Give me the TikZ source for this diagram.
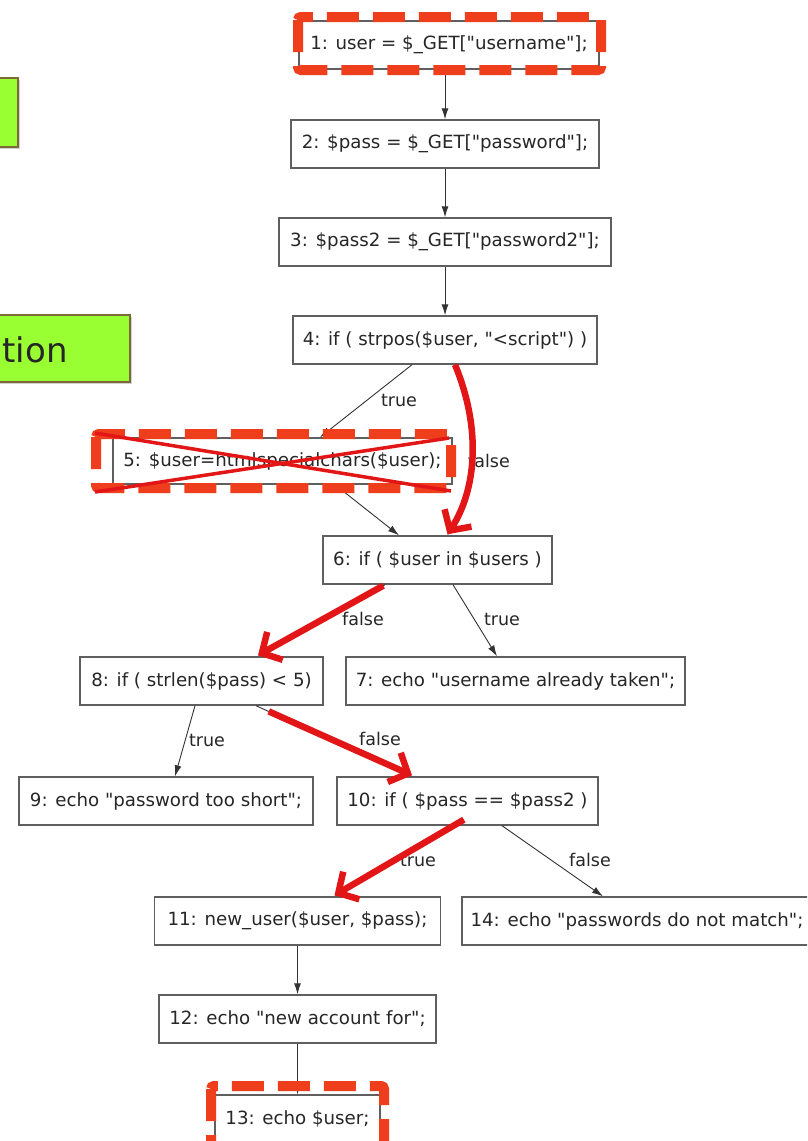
\documentclass[tikz,border=0pt]{standalone}
\usepackage{fontspec}
\setmainfont{DejaVu Sans}[Ligatures=TeXOff]
\usetikzlibrary{arrows.meta,shadows}
\definecolor{hotred}{RGB}{226,22,22}
\definecolor{dashred}{RGB}{238,62,28}
\definecolor{lime}{RGB}{153,255,51}
\definecolor{olivebrd}{RGB}{125,105,55}
\definecolor{boxgray}{RGB}{95,95,95}
\tikzset{
  stmt/.style={draw=boxgray, line width=1.4pt, fill=white, minimum height=48pt,
    inner sep=0pt, font=\fontsize{18.2}{20}\selectfont, text=black!85},
  flow/.style={draw=black!80, line width=0.9pt, -{Latex[length=11pt,width=7pt]}},
  lbl/.style={font=\fontsize{17.5}{20}\selectfont, text=black!85, inner sep=0pt},
  hot/.style={draw=hotred, line width=6.5pt, -{Straight Barb[length=15pt,width=32pt]}},
  redframe/.style={draw=dashred, line width=10pt, dash pattern=on 32pt off 14pt, rounded corners=3pt},
  cross/.style={draw=hotred, line width=3.5pt},
  note/.style={draw=olivebrd, line width=1.5pt, fill=lime,
    drop shadow={shadow xshift=2pt, shadow yshift=-2pt, opacity=0.35}},
}
\begin{document}
\begin{tikzpicture}[x=1pt,y=-1pt]
\path[use as bounding box] (0,0) rectangle (807,1141);
\clip (0,0) rectangle (807,1141);
\fill[white] (0,0) rectangle (807,1141);

% green call-out boxes at the left edge
\path[note] (-20,78) rectangle (18,147);
\path[note] (-20,315) rectangle (130,382);
\node[anchor=base east, font=\fontsize{34}{36}\selectfont, text=black!85, inner sep=0pt] (tion) at (68,362) {tion};

% statement boxes
\node[stmt, minimum width=300pt] (n1) at (449,45) {1: user = \$\_GET["username"];};
\node[stmt, minimum width=308pt] (n2) at (445,144) {2: \$pass = \$\_GET["password"];};
\node[stmt, minimum width=332pt] (n3) at (445,242) {3: \$pass2 = \$\_GET["password2"];};
\node[stmt, minimum width=304pt] (n4) at (445,340) {4: if ( strpos(\$user, "<script") )};
\node[stmt, minimum width=339pt, minimum height=46pt] (n5) at (282.5,461) {5: \$user=htmlspecialchars(\$user);};
\node[stmt, minimum width=229pt] (n6) at (437.5,560) {6: if ( \$user in \$users )};
\node[stmt, minimum width=243pt] (n8) at (201.5,681) {8: if ( strlen(\$pass) < 5)};
\node[stmt, minimum width=339pt] (n7) at (515.5,681) {7: echo "username already taken";};
\node[stmt, minimum width=294pt] (n9) at (166,801) {9: echo "password too short";};
\node[stmt, minimum width=261pt] (n10) at (467.5,801) {10: if ( \$pass == \$pass2 )};
\node[stmt, minimum width=286pt] (n11) at (297.5,921) {11: new\_user(\$user, \$pass);};
\node[stmt, minimum width=350pt] (n14) at (637,921) {14: echo "passwords do not match";};
\node[stmt, minimum width=277pt] (n12) at (297.5,1019) {12: echo "new account for";};
\node[stmt, minimum width=165pt] (n13) at (297.5,1119) {13: echo \$user;};

% control-flow edges
\draw[flow] (n2.north |- n1.south) -- (n2.north);
\draw[flow] (n2.south) -- (n3.north);
\draw[flow] (n3.south) -- (n4.north);
\draw[flow] ([xshift=-33pt]n4.south) -- ([xshift=37.5pt]n5.north);
\draw[flow] ([xshift=10pt]n4.south) .. controls (482,430) and (476,490) .. ([xshift=10pt]n6.north);
\draw[flow] ([xshift=52.5pt]n5.south) -- ([xshift=-38.5pt]n6.north);
\draw[flow] ([xshift=-52.5pt]n6.south) -- ([xshift=56.5pt]n8.north);
\draw[flow] ([xshift=15.5pt]n6.south) -- ([xshift=-18.5pt]n7.north);
\draw[flow] ([xshift=-6.5pt]n8.south) -- ([xshift=9pt]n9.north);
\draw[flow] ([xshift=54.5pt]n8.south) -- ([xshift=-55.5pt]n10.north);
\draw[flow] ([xshift=-14pt]n10.south) -- ([xshift=37pt]n11.north);
\draw[flow] ([xshift=34.5pt]n10.south) -- ([xshift=-34pt]n14.north);
\draw[flow] (n11.south) -- (n12.north);
\draw[flow] (n12.south) -- (n13.north);

% branch labels
\node[lbl] (t4) at (399,400) {true};
\node[lbl] (f4) at (489,461) {false};
\node[lbl] (f6) at (363,619) {false};
\node[lbl] (t6) at (502,619) {true};
\node[lbl] (t8) at (207,740) {true};
\node[lbl] (f8) at (380,739) {false};
\node[lbl] (t10) at (418,860) {true};
\node[lbl] (f10) at (590,860) {false};

% highlighted path
\draw[hot] ([xshift=10pt]n4.south) .. controls (482,430) and (476,490) .. ([xshift=10pt,yshift=1pt]n6.north);
\draw[hot, shorten <=2pt] ([xshift=-52.5pt]n6.south) -- ([xshift=56.5pt,yshift=1pt]n8.north);
\draw[hot, shorten <=14pt] ([xshift=54.5pt]n8.south) -- ([xshift=-55.5pt,yshift=1pt]n10.north);
\draw[hot, shorten <=-12pt] ([xshift=-14pt]n10.south) -- ([xshift=37pt,yshift=1pt]n11.north);

% dashed red frames
\draw[redframe] (298,17) rectangle (601,70);
\draw[redframe] (96,434) rectangle (451,488);
\draw[redframe] (211,1086) rectangle (384,1150);

% crossed-out statement
\draw[cross] (95,433) -- (451,491);
\draw[cross] (95,492) -- (449,438);
\end{tikzpicture}
\end{document}
